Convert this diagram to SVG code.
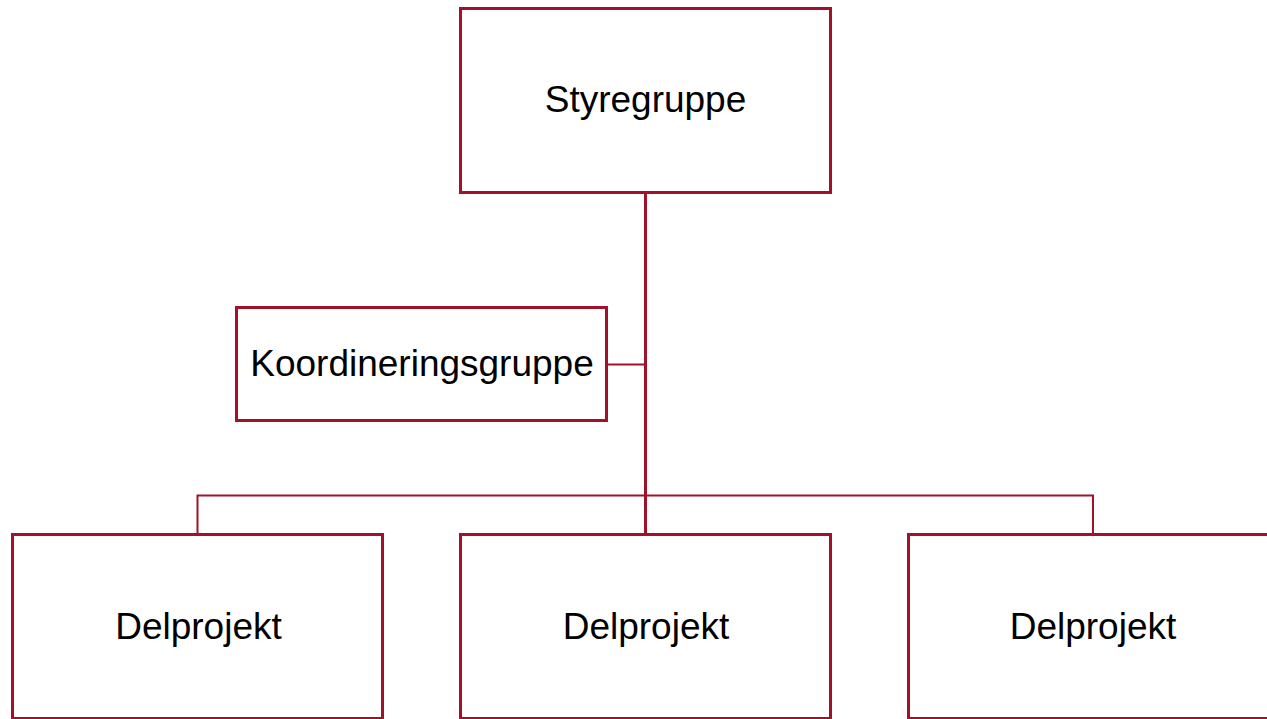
<svg xmlns="http://www.w3.org/2000/svg" width="1267" height="719" viewBox="0 0 1267 719">
<style>
.box{fill:#fff;stroke:#A0122A;stroke-width:3}
.lbl{font-family:"Liberation Sans",Arial,sans-serif;font-size:37px;fill:#000;text-anchor:middle}
.thin{fill:none;stroke:#A0122A;stroke-width:2}
.thick{fill:none;stroke:#A0122A;stroke-width:3}
</style>
<rect width="1267" height="719" fill="#fff"/>
<g id="connectors">
<line class="thick" x1="645.5" y1="193" x2="645.5" y2="534"/>
<line class="thin" x1="607" y1="364.5" x2="645.5" y2="364.5"/>
<polyline class="thin" points="197.5,534 197.5,495.5 1093,495.5 1093,534"/>
</g>
<g id="styregruppe">
<rect class="box" x="460.5" y="8.5" width="370" height="184"/>
<text class="lbl" x="645.5" y="112">Styregruppe</text>
</g>
<g id="koordineringsgruppe">
<rect class="box" x="236.5" y="307.5" width="370" height="113"/>
<text class="lbl" x="422" y="376">Koordineringsgruppe</text>
</g>
<g id="delprojekt1">
<rect class="box" x="12.5" y="534.5" width="370" height="184"/>
<text class="lbl" x="198.5" y="639">Delprojekt</text>
</g>
<g id="delprojekt2">
<rect class="box" x="460.5" y="534.5" width="370" height="184"/>
<text class="lbl" x="646" y="639">Delprojekt</text>
</g>
<g id="delprojekt3">
<rect class="box" x="908.5" y="534.5" width="370" height="184"/>
<text class="lbl" x="1093" y="639">Delprojekt</text>
</g>
</svg>
